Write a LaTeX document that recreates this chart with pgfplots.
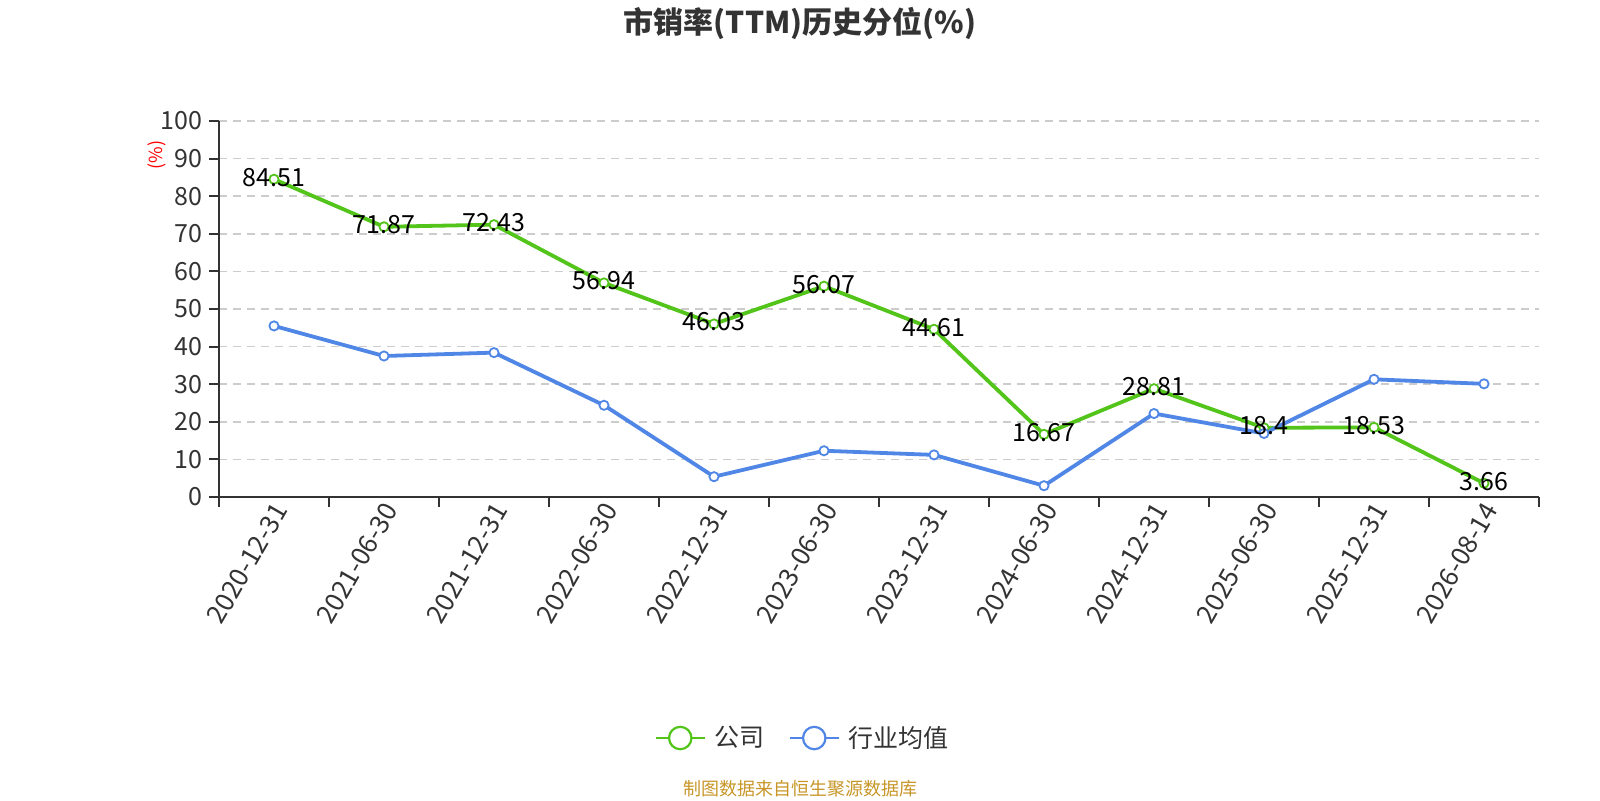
\documentclass[border=0pt]{standalone}
\usepackage{fontspec}
\setmainfont{Noto Sans CJK SC}
\usepackage{pgfplots}
\pgfplotsset{compat=1.18}
\definecolor{cgreen}{RGB}{82,196,26}
\definecolor{cblue}{RGB}{80,135,230}
\definecolor{tickc}{RGB}{51,51,51}
\definecolor{gridc}{RGB}{204,204,204}
\definecolor{foot}{RGB}{200,150,40}
\begin{document}
\begin{tikzpicture}
\path[use as bounding box, fill=white] (0,0) rectangle (800pt,400pt);
\begin{axis}[
  at={(109.5pt,151.5pt)}, anchor=south west,
  scale only axis, width=660pt, height=188pt,
  xmin=-0.5, xmax=11.5, ymin=0, ymax=100,
  axis lines*=left,
  axis line style={draw=tickc, line width=1pt},
  xtick={-0.5,0.5,...,11.5},
  xticklabels={},
  extra x ticks={0,1,...,11},
  extra x tick labels={2020-12-31,2021-06-30,2021-12-31,2022-06-30,2022-12-31,2023-06-30,2023-12-31,2024-06-30,2024-12-31,2025-06-30,2025-12-31,2026-08-14},
  extra x tick style={major tick length=0pt, grid=none,
    xticklabel style={rotate=60, anchor=east, yshift=-5pt, xshift=1.5pt}},
  x tick label style={font=\fontsize{13}{15}\selectfont, text=tickc},
  ytick={0,10,...,100},
  y tick label style={font=\fontsize{12.5}{14}\selectfont, text=tickc},
  tick align=outside, major tick length=5pt,
  tick style={draw=tickc, line width=1pt},
  ymajorgrids,
  grid style={dash pattern=on 4pt off 3pt, line width=0.8pt, draw=gridc},
  /pgf/number format/assume math mode=true,
  clip=false,
  legend image code/.code={
    \draw[#1, line width=1pt] (0pt,0pt) -- (24.5pt,0pt);
    \draw[#1, line width=1.1pt, fill=white] (12.25pt,0pt) circle (5.6pt);
  },
  legend style={at={(0.443,-0.641)}, anchor=center, draw=none, fill=none,
    legend columns=2, font=\fontsize{12.5}{14}\selectfont, text=tickc,
    /tikz/every odd column/.append style={column sep=2.5pt},
    /tikz/every even column/.append style={column sep=10pt}},
  legend cell align=left,
]
\addplot[cgreen, line width=1.9pt, mark=*, mark size=2.3pt,
  mark options={fill=white, line width=0.9pt, solid}]
coordinates {(0,84.51) (1,71.87) (2,72.43) (3,56.94) (4,46.03) (5,56.07)
  (6,44.61) (7,16.67) (8,28.81) (9,18.4) (10,18.53) (11,3.66)};
\addlegendentry{公司}
\addplot[cblue, line width=1.9pt, mark=*, mark size=2.3pt,
  mark options={fill=white, line width=0.9pt, solid}]
coordinates {(0,45.5) (1,37.5) (2,38.4) (3,24.4) (4,5.4) (5,12.3)
  (6,11.2) (7,3.0) (8,22.2) (9,16.9) (10,31.3) (11,30.1)};
\addlegendentry{行业均值}
\addplot[draw=none, forget plot, nodes near coords, point meta=explicit symbolic,
  nodes near coords align={center},
  every node near coord/.append style={font=\fontsize{12.5}{14}\selectfont, text=black, yshift=1pt}]
coordinates {(0,84.51)[84.51] (1,71.87)[71.87] (2,72.43)[72.43] (3,56.94)[56.94]
  (4,46.03)[46.03] (5,56.07)[56.07] (6,44.61)[44.61] (7,16.67)[16.67]
  (8,28.81)[28.81] (9,18.4)[18.4] (10,18.53)[18.53] (11,3.66)[3.66]};
\end{axis}
\node[font=\bfseries\fontsize{15}{18}\selectfont, text=tickc] at (400pt,388.5pt) {市销率(TTM)历史分位(\%)};
\node[rotate=90, font=\fontsize{9}{10}\selectfont, text=red] at (78.5pt,322.5pt) {(\%)};
\node[font=\fontsize{9}{10}\selectfont, text=foot] at (400pt,5.5pt) {制图数据来自恒生聚源数据库};
\end{tikzpicture}
\end{document}
